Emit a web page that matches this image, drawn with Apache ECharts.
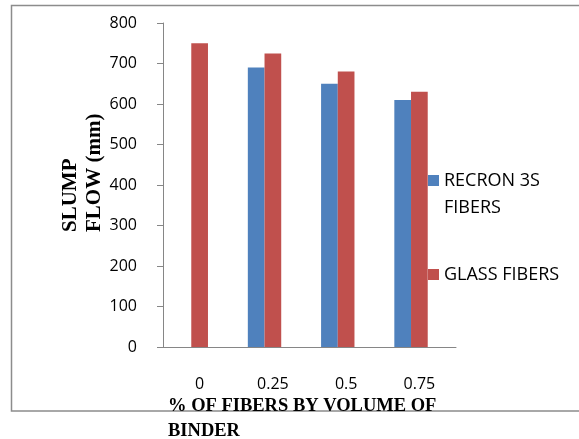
<!DOCTYPE html>
<html>
<head>
<meta charset="utf-8">
<script src="https://cdn.jsdelivr.net/npm/echarts@6/dist/echarts.min.js"></script>
<style>
  html, body { margin: 0; padding: 0; background: #fff; }
  #chart { width: 579px; height: 439px; }
</style>
</head>
<body>
<div id="chart"></div>
<script>
// data
var categories = ['0', '0.25', '0.5', '0.75'];
var recron = [null, 690, 650, 610];
var glass = [750, 725, 680, 630];
var blank = [null, null, null, null]; // empty third slot, keeps the red bar centred

var chart = echarts.init(document.getElementById('chart'));

var option = {
  backgroundColor: '#fff',
  animation: false,
  grid: {
    left: 163,
    top: 23,
    width: 293,
    height: 324,
    containLabel: false
  },
  legend: {
    orient: 'vertical',
    left: 428,
    top: 140,
    padding: 0,
    itemGap: 40,
    itemWidth: 11,
    itemHeight: 11,
    icon: 'rect',
    textStyle: {
      fontFamily: 'Open Sans',
      fontSize: 18,
      color: '#000',
      lineHeight: 27
    },
    data: ['RECRON 3S FIBERS', 'GLASS FIBERS'],
    // empty first line so the square sits next to the first text line
    formatter: function (name) {
      return name === 'RECRON 3S FIBERS' ? '\nRECRON 3S\nFIBERS' : name
    }
  },
  xAxis: {
    type: 'category',
    data: categories,
    axisLine: { lineStyle: { color: '#868686' } },
    axisTick: { length: 6, lineStyle: { color: '#868686' } },
    axisLabel: {
      margin: 29,
      fontFamily: 'Open Sans',
      fontSize: 16,
      color: '#000'
    }
  },
  yAxis: {
    type: 'value',
    min: 0,
    max: 800,
    interval: 100,
    axisLine: { show: true, lineStyle: { color: '#868686' } },
    axisTick: { show: true, length: 6, lineStyle: { color: '#868686' } },
    splitLine: { show: false },
    axisLabel: {
      margin: 26,
      fontFamily: 'Open Sans',
      fontSize: 16,
      color: '#000'
    }
  },
  series: [
    {
      name: 'RECRON 3S FIBERS',
      type: 'bar',
      data: recron,
      barWidth: 16.7,
      barGap: 0,
      itemStyle: { color: '#4F81BD' }
    },
    {
      name: 'GLASS FIBERS',
      type: 'bar',
      data: glass,
      barWidth: 16.7,
      barGap: 0,
      itemStyle: { color: '#C0504D' }
    },
    {
      name: 'blank',
      type: 'bar',
      data: blank,
      barWidth: 16.7,
      barGap: 0
    }
  ],
  graphic: [
    {
      type: 'rect',
      z: -10,
      shape: { x: 11.5, y: 5.5, width: 600, height: 405.5 },
      style: { fill: 'none', stroke: '#8c8c8c', lineWidth: 1.5 }
    },
    {
      type: 'text',
      x: 58,
      y: 232,
      rotation: Math.PI / 2,
      style: {
        text: 'SLUMP\nFLOW (mm)',
        fontFamily: 'Liberation Serif',
        fontWeight: 'bold',
        fontSize: 21,
        lineHeight: 24.5,
        textAlign: 'left',
        textVerticalAlign: 'top',
        fill: '#000'
      }
    },
    {
      type: 'text',
      x: 168,
      y: 394,
      style: {
        text: '% OF FIBERS BY VOLUME OF\nBINDER',
        fontFamily: 'Liberation Serif',
        fontWeight: 'bold',
        fontSize: 18.5,
        lineHeight: 24.5,
        textAlign: 'left',
        textVerticalAlign: 'top',
        fill: '#000'
      }
    }
  ]
};

chart.setOption(option);
</script>
</body>
</html>
